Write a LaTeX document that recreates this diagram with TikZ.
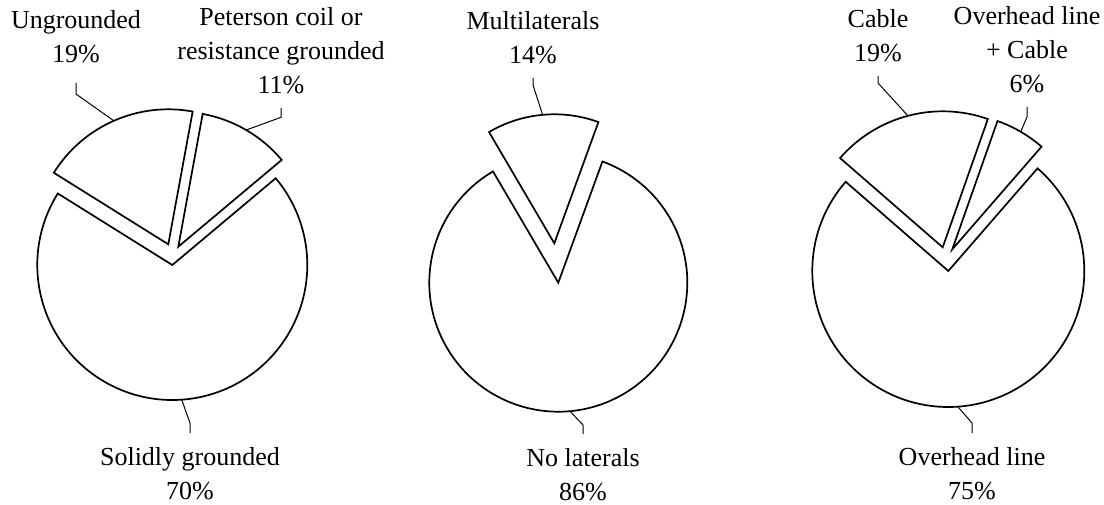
\documentclass[tikz,border=0pt]{standalone}
\usepackage{fontspec}
\setmainfont{Liberation Serif}
\usepackage{tikz}
\usetikzlibrary{calc}

\begin{document}
\begin{tikzpicture}[x=0.5pt,y=0.5pt,slice/.style={draw=black,line width=0.85pt,fill=white},leader/.style={draw=black,line width=0.5pt},lbl/.style={align=center,inner xsep=0pt,inner ysep=7pt,font=\fontsize{13pt}{17pt}\selectfont}]
\useasboundingbox (0,0) rectangle (1104,504);
% grounding pie
\coordinate (gr-c) at (172.3,239);
\coordinate (gr-u) at (168.3,259.7);
\coordinate (gr-p) at (178.3,257.3);
\draw[slice] (gr-c) -- ++(148:135) arc[start angle=148,end angle=400,radius=135] -- cycle;
\draw[slice] (gr-u) -- ++(79.6:135) arc[start angle=79.6,end angle=148,radius=135] -- cycle;
\draw[slice] (gr-p) -- ++(40:135) arc[start angle=40,end angle=79.6,radius=135] -- cycle;
\node[lbl,anchor=south,inner ysep=10pt] (gr-u-lbl) at (76,421) {Ungrounded\\19\%};
\node[lbl,anchor=south] (gr-p-lbl) at (281,396) {Peterson coil or\\resistance grounded\\11\%};
\node[lbl,anchor=north] (gr-c-lbl) at (190,71) {Solidly grounded\\70\%};
\coordinate (gr-u-knee) at (76,410);
\coordinate (gr-p-knee) at (281,386.7);
\coordinate (gr-c-knee) at (190,81);
\coordinate (gr-u-arc) at ($(gr-u)+(113.8:135)$);
\coordinate (gr-p-arc) at ($(gr-p)+(59.8:135)$);
\coordinate (gr-c-arc) at ($(gr-c)+(274:135)$);
\draw[leader] (gr-u-lbl) -- (gr-u-knee) -- (gr-u-arc);
\draw[leader] (gr-p-lbl) -- (gr-p-knee) -- (gr-p-arc);
\draw[leader] (gr-c-lbl) -- (gr-c-knee) -- (gr-c-arc);
% laterals pie
\coordinate (lat-c) at (558.3,221.3);
\coordinate (lat-m) at (554.3,260.7);
\draw[slice] (lat-c) -- ++(120.4:129) arc[start angle=120.4,end angle=430,radius=129] -- cycle;
\draw[slice] (lat-m) -- ++(70:129) arc[start angle=70,end angle=120.4,radius=129] -- cycle;
\node[lbl,anchor=south] (lat-m-lbl) at (533,426) {Multilaterals\\14\%};
\node[lbl,anchor=north] (lat-c-lbl) at (583,70) {No laterals\\86\%};
\coordinate (lat-m-knee) at (533,419);
\coordinate (lat-c-knee) at (583,79);
\coordinate (lat-m-arc) at ($(lat-m)+(95.2:129)$);
\coordinate (lat-c-arc) at ($(lat-c)+(275.2:129)$);
\draw[leader] (lat-m-lbl) -- (lat-m-knee) -- (lat-m-arc);
\draw[leader] (lat-c-lbl) -- (lat-c-knee) -- (lat-c-arc);
% line type pie
\coordinate (ln-c) at (948.3,233);
\coordinate (ln-cb) at (942.7,256.7);
\coordinate (ln-oc) at (952.3,254.7);
\draw[slice] (ln-c) -- ++(139:136) arc[start angle=139,end angle=409,radius=136] -- cycle;
\draw[slice] (ln-cb) -- ++(70.6:136) arc[start angle=70.6,end angle=139,radius=136] -- cycle;
\draw[slice] (ln-oc) -- ++(49:136) arc[start angle=49,end angle=70.6,radius=136] -- cycle;
\node[lbl,anchor=south] (ln-cb-lbl) at (878,428) {Cable\\19\%};
\node[lbl,anchor=south] (ln-oc-lbl) at (1027,397) {Overhead line\\+ Cable\\6\%};
\node[lbl,anchor=north] (ln-c-lbl) at (972,71) {Overhead line\\75\%};
\coordinate (ln-cb-knee) at (878,421);
\coordinate (ln-oc-knee) at (1027,387);
\coordinate (ln-c-knee) at (972,81);
\coordinate (ln-cb-arc) at ($(ln-cb)+(104.8:136)$);
\coordinate (ln-oc-arc) at ($(ln-oc)+(59.8:136)$);
\coordinate (ln-c-arc) at ($(ln-c)+(274:136)$);
\draw[leader] (ln-cb-lbl) -- (ln-cb-knee) -- (ln-cb-arc);
\draw[leader] (ln-oc-lbl) -- (ln-oc-knee) -- (ln-oc-arc);
\draw[leader] (ln-c-lbl) -- (ln-c-knee) -- (ln-c-arc);
\end{tikzpicture}
\end{document}
